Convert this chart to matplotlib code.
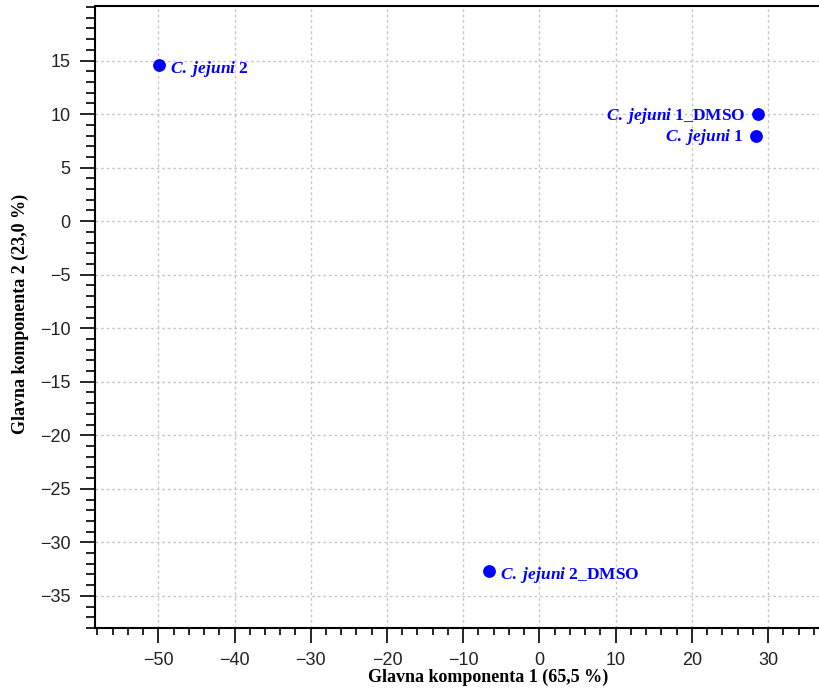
import matplotlib
matplotlib.use('Agg')
import matplotlib.pyplot as plt
from matplotlib.ticker import MultipleLocator, FixedLocator

# PCA scores
genus = ['C.', 'C.', 'C.', 'C.']
species = ['jejuni', 'jejuni', 'jejuni', 'jejuni']
suffix = ['2', '1_DMSO', '1', '2_DMSO']
pc1 = [-49.9, 28.7, 28.4, -6.6]
pc2 = [14.6, 10.0, 8.0, -32.7]
y_ticks = [-35, -30, -25, -20, -15, -10, -5, 0, 5, 10, 15]

plt.rcParams['mathtext.fontset'] = 'custom'
plt.rcParams['mathtext.it'] = 'Liberation Serif:bold:italic'
plt.rcParams['mathtext.rm'] = 'Liberation Serif:bold'

fig = plt.figure(figsize=(8.2, 6.88), dpi=100)
ax = fig.add_axes([95 / 820, 60 / 688, 725 / 820, 622 / 688])

ax.scatter(pc1, pc2, s=85, color='#0000ff', zorder=3, linewidths=0)

# label placement: right of point, except the two on the right side
offsets = [(8, -3), (-9, -1), (-9, -1), (8, -3)]
aligns = ['left', 'right', 'right', 'left']
for g, sp, sf, x, y, off, ha in zip(genus, species, suffix, pc1, pc2, offsets, aligns):
    label = r'$\mathit{' + g + '}$ $\mathit{' + sp + '}$ ' + sf
    ax.annotate(label, (x, y), xytext=off, textcoords='offset points',
                ha=ha, va='center', color='#0000ff', fontsize=12.5,
                family='Liberation Serif', fontweight='bold')

ax.set_xlim(-58.3, 36.8)
ax.set_ylim(-38.0, 20.1)
ax.xaxis.set_major_locator(MultipleLocator(10))
ax.xaxis.set_minor_locator(MultipleLocator(2))
ax.yaxis.set_major_locator(FixedLocator(y_ticks))
ax.yaxis.set_minor_locator(MultipleLocator(1))

ax.grid(True, which='major', color='#c8c8c8', linestyle=(0, (2, 2)), linewidth=1.0)
ax.set_axisbelow(True)

for side in ['left', 'bottom', 'top']:
    ax.spines[side].set_linewidth(1.5)
ax.spines['right'].set_visible(False)

ax.tick_params(which='major', direction='out', length=11, width=1.2,
               labelsize=13, labelcolor='#222222')
ax.tick_params(axis='x', which='major', pad=6)
ax.tick_params(axis='y', which='major', pad=6.5)
ax.tick_params(axis='x', which='minor', direction='out', length=5, width=1.2)
ax.tick_params(axis='y', which='minor', direction='out', length=6.5, width=1.2)
ax.tick_params(top=False, right=False)
for lbl in ax.get_xticklabels() + ax.get_yticklabels():
    lbl.set_family('Liberation Sans')

ax.set_xlabel('Glavna komponenta 1 (65,5 %)', family='Liberation Serif',
              fontweight='bold', fontsize=13)
ax.set_ylabel('Glavna komponenta 2 (23,0 %)', family='Liberation Serif',
              fontweight='bold', fontsize=13)
ax.xaxis.set_label_coords(0.542, -0.066)
ax.yaxis.set_label_coords(-0.091, 0.505)

fig.savefig('out.png', dpi=100)
